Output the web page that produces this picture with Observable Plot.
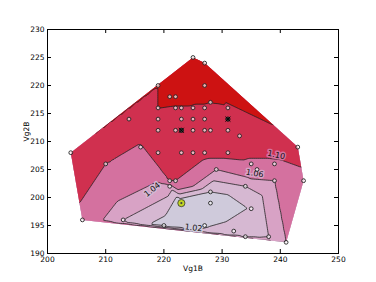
<!DOCTYPE html>
<html><head><meta charset="utf-8">
<script src="https://cdn.jsdelivr.net/npm/d3@7"></script>
<script src="https://cdn.jsdelivr.net/npm/@observablehq/plot@0.6"></script>
<style>
html,body{margin:0;padding:0;background:#fff;}
svg{font-family:"DejaVu Sans",sans-serif;}
</style>
</head><body><div id="chart"></div>
<script>
// Measured gate voltages and interpolated ratio at each sample
const vg1b = [225,227,219,227,221,222,228,219,222,223,225,227,231,214,219,223,225,227,231,219,222,223,225,227,228,231,233,204,216,219,223,225,227,231,243,210,221,222,221,235,236,239,244,229,239,234,228,228,223,235,206,213,220,227,232,234,238,241];
const vg2b = [225,224,220,220,218,218,217,216,216,216,216,216,216,214,214,214,214,214,214,212,212,212,212,212,212,212,211,208,209,208,208,208,208,208,209,206,203,203,202,206,205,206,203,205,203,202,201,199,199,198,196,196,195,195,194,193,193,192];
const ratio = [1.40,1.40,1.20,1.40,1.40,1.40,1.20,1.20,1.16,1.16,1.16,1.16,1.17,1.14,1.15,1.15,1.15,1.15,1.15,1.15,1.15,1.15,1.15,1.15,1.15,1.15,1.14,1.16,1.095,1.12,1.13,1.13,1.12,1.12,1.13,1.10,1.10,1.10,1.05,1.09,1.085,1.09,1.08,1.06,1.06,1.04,1.02,1.00,1.00,1.022,1.08,1.04,1.01,1.018,1.03,1.035,1.04,1.06];

const levels = [0.9, 1.02, 1.04, 1.06, 1.10, 1.20];
const bandColors = ["#cfcadb", "#d6b8d2", "#d8a2c5", "#d4719f", "#d0304f", "#cd1212"];
const lineLevels = [1.02, 1.04, 1.06, 1.10, 1.20];

const xTicks = [200, 210, 220, 230, 240, 250];
const yTicks = [190, 195, 200, 205, 210, 215, 220, 225, 230];

const highlightX = [223], highlightY = [199];
const markedX = [223, 231], markedY = [212, 214];

const labelText = ["1.04", "1.02", "1.06", "1.10"];
const labelLevel = [1.04, 1.02, 1.06, 1.10];
const labelX = [218.0, 225.1, 235.6, 239.3];
const labelY = [201.4, 194.6, 204.3, 207.6];
const labelAngle = [-38, 6, 10, 12];

const pts = vg1b.map((x, i) => ({x, y: vg2b[i], v: ratio[i]}));
const hl = highlightX.map((x, i) => ({x, y: highlightY[i]}));
const marked = markedX.map((x, i) => ({x, y: markedY[i]}));
const labels = labelText.map((t, i) => ({t, lv: labelLevel[i], x: labelX[i], y: labelY[i], a: labelAngle[i]}));

const colorScale = Plot.scale({color: {type: "threshold", domain: levels.slice(1), range: bandColors}});

const plot = Plot.plot({
  width: 376, height: 282,
  marginLeft: 47, marginRight: 38, marginTop: 29, marginBottom: 29,
  x: {domain: [200, 250]},
  y: {domain: [190, 230]},
  color: {type: "threshold", domain: levels.slice(1), range: bandColors},
  style: {fontFamily: "DejaVu Sans, sans-serif", fontSize: "7.5px", background: "white", color: "black"},
  marks: [
    Plot.contour(pts, {x: "x", y: "y", value: "v", fill: "value", thresholds: levels, interpolate: "barycentric", stroke: null}),
    Plot.contour(pts, {x: "x", y: "y", value: "v", fill: "none", thresholds: lineLevels, interpolate: "barycentric", stroke: "#222", strokeWidth: 0.8}),
    Plot.text(labels, {x: "x", y: "y", text: "t", rotate: "a", fontSize: 8, fill: "#111",
      stroke: d => colorScale.apply(d.lv - 0.001), strokeWidth: 3}),
    Plot.dot(pts, {x: "x", y: "y", r: 1.9, fill: "white", fillOpacity: 0.65, stroke: "#222", strokeWidth: 0.9}),
    Plot.dot(hl, {x: "x", y: "y", r: 3.6, fill: "#c2d522", stroke: "#333", strokeWidth: 0.8}),
    Plot.dot(hl, {x: "x", y: "y", r: 1.1, fill: "#444"}),
    Plot.dot(marked, {x: "x", y: "y", r: 2.2, fill: "#333", stroke: "#111", strokeWidth: 0.6}),
    Plot.dot(marked, {x: "x", y: "y", r: 2.4, symbol: "times", stroke: "#000", strokeWidth: 0.9}),
    Plot.frame({stroke: "black", strokeWidth: 1}),
    Plot.tickX(xTicks, {x: d => d, insetTop: 220, stroke: "black"}),
    Plot.tickX(xTicks, {x: d => d, insetBottom: 220, stroke: "black"}),
    Plot.tickY(yTicks, {y: d => d, insetRight: 287, stroke: "black"}),
    Plot.tickY(yTicks, {y: d => d, insetLeft: 287, stroke: "black"}),
    Plot.axisX(xTicks, {tickSize: 0, tickPadding: 3, fontSize: 7.5, label: null}),
    Plot.axisY(yTicks, {tickSize: 0, tickPadding: 3, fontSize: 7.5, label: null}),
    Plot.text(["Vg1B"], {frameAnchor: "bottom", dy: 15, lineAnchor: "middle", fontSize: 7.5}),
    Plot.text(["Vg2B"], {frameAnchor: "left", dx: -21, rotate: -90, fontSize: 7.5})
  ]
});

// clip the interpolated surface to the convex hull of the samples
const sx = plot.scale("x"), sy = plot.scale("y");
const hull = d3.polygonHull(pts.map(d => [sx.apply(d.x), sy.apply(d.y)]));
const svg = d3.select(plot);
svg.append("defs").append("clipPath").attr("id", "hullclip")
  .append("path").attr("d", "M" + hull.map(p => p.join(",")).join("L") + "Z");
svg.selectAll('g[aria-label="contour"]').attr("clip-path", "url(#hullclip)");
document.getElementById("chart").appendChild(plot);
</script>
</body></html>
